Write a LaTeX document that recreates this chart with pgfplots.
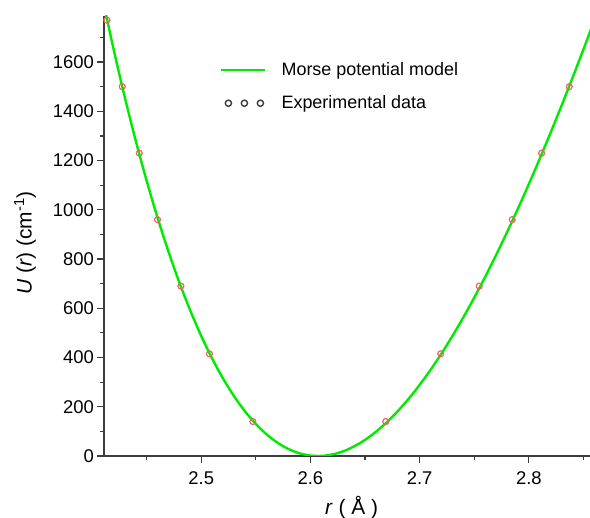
\documentclass[border=0pt]{standalone}
\usepackage{fontspec}
\setmainfont{Liberation Sans}
\usepackage{pgfplots}
\usepackage{pgfplotstable}
\pgfplotsset{compat=1.18}

\definecolor{morsegreen}{RGB}{0,235,0}
\definecolor{ptred}{RGB}{240,100,100}
\definecolor{axgray}{RGB}{60,60,60}

% Morse curve, sampled
\pgfplotstableread{
r     U
2.410 1852.1
2.420 1647.8
2.430 1457.7
2.440 1281.4
2.450 1118.3
2.460 968.2
2.470 830.4
2.480 704.7
2.490 590.7
2.500 487.9
2.510 396.0
2.520 314.6
2.530 243.4
2.540 182.0
2.550 130.1
2.560 87.4
2.570 53.5
2.580 28.1
2.590 11.0
2.600 1.9
2.610 0.3
2.620 6.2
2.630 19.2
2.640 39.1
2.650 65.5
2.660 98.4
2.670 137.3
2.680 182.2
2.690 232.7
2.700 288.7
2.710 349.9
2.720 416.1
2.730 487.2
2.740 562.9
2.750 643.1
2.760 727.5
2.770 816.0
2.780 908.4
2.790 1004.6
2.800 1104.4
2.810 1207.6
2.820 1314.0
2.830 1423.6
2.840 1536.2
2.850 1651.6
2.860 1769.7
}\morse

% measured levels
\pgfplotstableread{
r      U
2.4137 1770
2.4277 1500
2.4433 1230
2.4600 960
2.4814 690
2.5076 415
2.5473 140
2.6690 140
2.7193 415
2.7546 690
2.7848 960
2.8117 1230
2.8370 1500
}\expdata

\begin{document}
\begin{tikzpicture}
\begin{axis}[
  scale only axis,
  width=486bp, height=440bp,
  xmin=2.411, xmax=2.856,
  ymin=0, ymax=1787,
  axis x line*=bottom,
  axis y line*=left,
  axis line style={axgray, line width=1.4bp},
  tick style={axgray, line width=1.2bp},
  tick align=outside,
  xtick={2.5,2.6,2.7,2.8},
  minor xtick={2.45,2.55,2.65,2.75,2.85},
  ytick={0,200,...,1600},
  minor ytick={100,300,...,1700},
  major tick length=6.5bp, minor tick length=4bp,
  /pgf/number format/assume math mode=true,
  xticklabel style={yshift=-6bp, /pgf/number format/fixed, /pgf/number format/fixed zerofill, /pgf/number format/precision=1},
  yticklabel style={/pgf/number format/1000 sep={}},
  tick label style={font=\fontsize{18.5}{22}\selectfont},
  label style={font=\fontsize{21}{25}\selectfont},
  xlabel={\textit{r} ( Å )},
  ylabel={\textit{U} (\textit{r}) (cm\textsuperscript{-1})},
  xlabel style={at={(axis description cs:0.5097,-0.1182)}, anchor=center},
  ylabel style={at={(axis description cs:-0.1626,0.484)}, anchor=center},
  legend cell align=left,
  legend style={draw=none, fill=none, inner sep=0pt,
    at={(axis description cs:0.2387,0.8398)}, anchor=west,
    font=\fontsize{18}{21}\selectfont, row sep=15bp,
    /tikz/every odd column/.append style={column sep=13bp}},
]
\addplot[only marks, mark=o, mark size=3bp,
  mark options={draw=ptred, line width=0.9bp},
  forget plot] table[x=r, y=U] {\expdata};
\addplot[morsegreen, line width=2.4bp, smooth,
  legend image code/.code={\draw[morsegreen, line width=2.4bp] (0bp,0bp) -- (44bp,0bp);}]
  table[x=r, y=U] {\morse};
\addlegendentry{Morse potential model}
\addplot[only marks, draw=none, mark=o, mark size=3bp,
  mark options={draw=ptred, line width=0.9bp},
  legend image code/.code={%
    \foreach \xx in {7,23,39} {\draw[axgray, line width=1.4bp] (\xx bp,0bp) circle (3.1bp);}}]
  table[x=r, y=U] {\expdata};
\addlegendentry{Experimental data}
\end{axis}
\pgfresetboundingbox
\path[use as bounding box] (-104bp,-62bp) rectangle (486bp,456bp);
\end{tikzpicture}
\end{document}
